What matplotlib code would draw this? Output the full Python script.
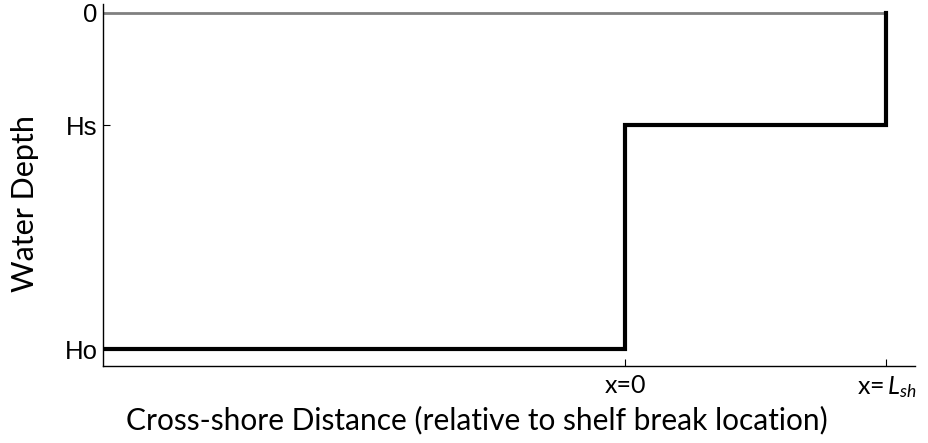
import matplotlib
matplotlib.use("Agg")
import matplotlib.pyplot as plt

# Data (depth in units where Hs=1, Ho=3; distance in units of L_sh)
Hs = 1.0
Ho = 3.0
L_sh = 1.0
x_min = -2.0
profile_x = [x_min, 0.0, 0.0, L_sh, L_sh]
profile_depth = [Ho, Ho, Hs, Hs, 0.0]
surface_x = [x_min, L_sh]
surface_depth = [0.0, 0.0]
ytick_vals = [0.0, Hs, Ho]
ytick_labels = ["0", "Hs", "Ho"]
xtick_vals = [0.0, L_sh]
xtick_labels = ["x=0", "x=$\\,L_{sh}$"]

plt.rcParams['mathtext.fontset'] = 'custom'
plt.rcParams['mathtext.rm'] = 'Lato'
plt.rcParams['mathtext.it'] = 'Lato:italic'

fig = plt.figure(figsize=(9.29, 4.43), dpi=100)
ax = fig.add_axes([103/929, 1-366/443, (915-103)/929, (366-4)/443])

ax.plot(surface_x, surface_depth, color='#808080', lw=2.0, solid_capstyle='butt', zorder=2)
ax.plot(profile_x, profile_depth, color='black', lw=3.0, solid_joinstyle='miter', zorder=3)

ax.set_xlim(x_min, 1.11)
ax.set_ylim(3.15, -0.08)

ax.spines['top'].set_visible(False)
ax.spines['right'].set_visible(False)
ax.spines['left'].set_linewidth(1.0)
ax.spines['bottom'].set_linewidth(1.0)

ax.set_yticks(ytick_vals)
ax.set_yticklabels(ytick_labels, fontfamily='Liberation Sans', fontsize=18.5)
ax.set_xticks(xtick_vals)
ax.set_xticklabels(xtick_labels, fontfamily='Lato', fontsize=18)
ax.tick_params(axis='both', direction='in', length=5, width=0.8, colors='black')
ax.tick_params(axis='y', pad=4)
ax.tick_params(axis='x', pad=6)

ax.set_xlabel("Cross-shore Distance (relative to shelf break location)", fontfamily='Lato', fontsize=21.5, labelpad=4)
ax.set_ylabel("Water Depth", fontfamily='Lato', fontsize=22, labelpad=18)
ax.xaxis.label.set_x(0.46)
ax.yaxis.label.set_y(0.45)

fig.savefig("out.png", dpi=100)
